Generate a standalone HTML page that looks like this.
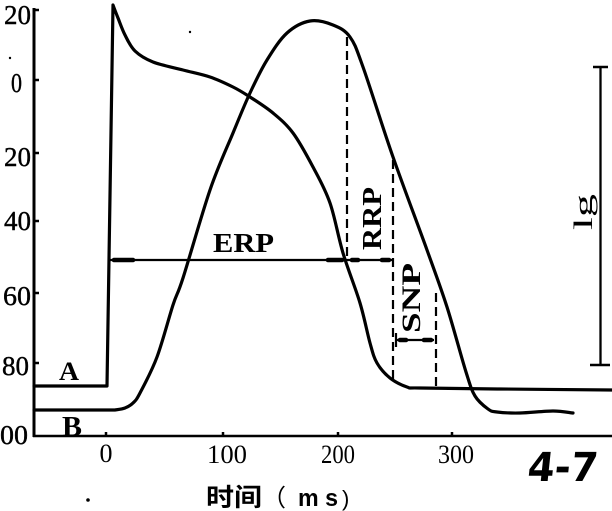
<!DOCTYPE html>
<html><head><meta charset="utf-8"><style>
html,body{margin:0;padding:0;background:#fff;}
svg{display:block;}
.t{font-family:"Liberation Serif",serif;fill:#000;}
</style></head><body>
<svg width="612" height="511" viewBox="0 0 612 511" xmlns="http://www.w3.org/2000/svg">
<rect width="612" height="511" fill="#fff"/>
<!-- axes -->
<line x1="34" y1="8" x2="34" y2="437" stroke="#000" stroke-width="3"/>
<line x1="33" y1="436" x2="612" y2="436" stroke="#000" stroke-width="2.5"/>
<line x1="34" y1="10" x2="39" y2="10" stroke="#000" stroke-width="2.5"/>
<g stroke="#000" stroke-width="2.5">
<line x1="34" y1="80" x2="39" y2="80"/>
<line x1="34" y1="153" x2="39" y2="153"/>
<line x1="34" y1="221" x2="39" y2="221"/>
<line x1="34" y1="293" x2="39" y2="293"/>
<line x1="34" y1="363" x2="39" y2="363"/>
<line x1="106" y1="436" x2="106" y2="432"/>
<line x1="223" y1="436" x2="223" y2="432"/>
<line x1="338" y1="436" x2="338" y2="432"/>
<line x1="452" y1="436" x2="452" y2="432"/>
</g>
<!-- y labels -->
<g class="t" font-size="27" text-anchor="end" stroke="#000" stroke-width="0.4">
<text x="31" y="24" textLength="27" lengthAdjust="spacingAndGlyphs">20</text>
<text x="22" y="92" textLength="11" lengthAdjust="spacingAndGlyphs">0</text>
<text x="31" y="166" textLength="27" lengthAdjust="spacingAndGlyphs">20</text>
<text x="31" y="230" textLength="27" lengthAdjust="spacingAndGlyphs">40</text>
<text x="31" y="305" textLength="28" lengthAdjust="spacingAndGlyphs">60</text>
<text x="29" y="375" textLength="27" lengthAdjust="spacingAndGlyphs">80</text>
<text x="28" y="444" textLength="28" lengthAdjust="spacingAndGlyphs">00</text>
</g>
<!-- x labels -->
<g class="t" font-size="26" text-anchor="middle">
<text x="106" y="462">0</text>
<text x="227" y="463" textLength="40" lengthAdjust="spacingAndGlyphs">100</text>
<text x="338" y="463" textLength="34" lengthAdjust="spacingAndGlyphs">200</text>
<text x="456" y="463" textLength="36" lengthAdjust="spacingAndGlyphs">300</text>
</g>
<!-- curve A -->
<path id="curveA" fill="none" stroke="#000" stroke-width="3.2" stroke-linejoin="round" stroke-linecap="round"
d="M34,386 L107,386 L113,5 L118,18 L123,33 L133,50 L153,62 L183,70 L210,77 L233,87 L250,97 L273,113 L293,133 L313,167 L330,200 L343,253 L360,303 L370,343 L377,363 L390,378 L407,387 L420,388 L500,389 L612,390"/>
<!-- curve B -->
<path id="curveB" fill="none" stroke="#000" stroke-width="3.2" stroke-linejoin="round" stroke-linecap="round"
d="M34,410 L115,410 L125,408 L133,403 L140,393 L157,357 L173,305 L183,278 L210,190 L233,133 L250,93 L267,60 L287,33 L310,21 L333,25 L350,37 L363,67 L393,157 L427,250 L447,307 L466,372 L475,396 L488,409 L497,412 L520,413 L553,411 L573,413"/>
<!-- dashed lines -->
<g stroke="#000" stroke-width="2.2" stroke-dasharray="9,5">
<line x1="347" y1="37" x2="347" y2="260"/>
<line x1="393" y1="160" x2="393" y2="380"/>
<line x1="436" y1="293" x2="436" y2="389"/>
</g>
<!-- ERP / RRP arrow line -->
<line x1="109" y1="260" x2="393" y2="260" stroke="#000" stroke-width="2.2"/>
<g stroke="#000" stroke-width="4.5" stroke-linecap="round">
<line x1="114" y1="260" x2="133" y2="260"/>
<line x1="328" y1="260" x2="342" y2="260"/>
<line x1="352" y1="260" x2="358" y2="260"/>
<line x1="382" y1="260" x2="389" y2="260"/>
</g>
<!-- SNP arrow -->
<line x1="396" y1="333" x2="396" y2="347" stroke="#000" stroke-width="2.2"/>
<line x1="396" y1="340" x2="434" y2="340" stroke="#000" stroke-width="2.2"/>
<g stroke="#000" stroke-width="4.5" stroke-linecap="round">
<line x1="400" y1="340" x2="406" y2="340"/>
<line x1="424" y1="340" x2="431" y2="340"/>
</g>
<!-- scale bar -->
<line x1="600.5" y1="67" x2="600.5" y2="365" stroke="#000" stroke-width="2.3"/>
<line x1="593" y1="67" x2="608" y2="67" stroke="#000" stroke-width="2.5"/>
<line x1="590" y1="365" x2="610" y2="365" stroke="#000" stroke-width="2.5"/>
<!-- labels -->
<text class="t" x="213" y="252" font-size="27" font-weight="bold" textLength="61" lengthAdjust="spacingAndGlyphs">ERP</text>
<text class="t" font-size="27" font-weight="bold" transform="translate(381,250) rotate(-90)" textLength="63" lengthAdjust="spacingAndGlyphs">RRP</text>
<text class="t" font-size="26" font-weight="bold" transform="translate(420,333) rotate(-90)" textLength="70" lengthAdjust="spacingAndGlyphs">SNP</text>
<text class="t" font-size="26" transform="translate(592,230) rotate(-90)" textLength="36" lengthAdjust="spacingAndGlyphs">lg</text>
<text class="t" x="59" y="380" font-size="26" font-weight="bold" textLength="20" lengthAdjust="spacingAndGlyphs">A</text>
<text class="t" x="62" y="436" font-size="28" font-weight="bold" textLength="20" lengthAdjust="spacingAndGlyphs">B</text>
<!-- axis title -->
<text x="206" y="506" font-family="'Liberation Sans','Noto Sans CJK SC',sans-serif" font-size="25" font-weight="bold" fill="#000" textLength="56" lengthAdjust="spacingAndGlyphs">时间</text>
<text x="262" y="506" font-family="'Liberation Sans','Noto Sans CJK SC',sans-serif" font-size="24" fill="#000">（</text>
<text x="298" y="506" font-family="'Liberation Sans',sans-serif" font-size="24" font-weight="bold" fill="#000" textLength="40" lengthAdjust="spacingAndGlyphs">m s</text>
<text x="342" y="506" font-family="'Liberation Sans',sans-serif" font-size="22" fill="#000">)</text>
<!-- figure number -->
<text x="527" y="481" font-family="'DejaVu Sans',sans-serif" font-size="40" font-weight="bold" fill="#000" textLength="70" lengthAdjust="spacingAndGlyphs" transform="skewX(-6) translate(50,0)">4-7</text>
<!-- specks -->
<circle cx="88" cy="500" r="1.8" fill="#000"/>
<circle cx="10" cy="58" r="1.2" fill="#000"/>
<circle cx="190" cy="32" r="1.2" fill="#000"/>
</svg>
<script>
(function(){
function smooth(pre, pts){
  var d = pre;
  for (var i=0;i<pts.length-1;i++){
    var p0 = pts[i-1]||pts[i], p1=pts[i], p2=pts[i+1], p3=pts[i+2]||pts[i+1];
    var c1x=p1[0]+(p2[0]-p0[0])/6, c1y=p1[1]+(p2[1]-p0[1])/6;
    var c2x=p2[0]-(p3[0]-p1[0])/6, c2y=p2[1]-(p3[1]-p1[1])/6;
    d += " C"+c1x.toFixed(1)+","+c1y.toFixed(1)+" "+c2x.toFixed(1)+","+c2y.toFixed(1)+" "+p2[0]+","+p2[1];
  }
  return d;
}
var A=[[113,5],[118,18],[125,35],[135,51],[153,62],[183,70],[210,77],[233,87],[250,97],[273,113],[293,133],[313,167],[330,203],[343,253],[360,303],[370,343],[377,363],[390,378],[407,387],[420,388],[500,389],[612,390]];
var B=[[115,410],[125,408],[133,403],[140,393],[157,357],[173,305],[183,278],[210,190],[233,133],[250,93],[267,60],[287,33],[310,21],[333,25],[350,37],[363,67],[393,157],[427,250],[447,307],[466,372],[475,396],[488,409],[497,412],[520,413],[553,411],[573,413]];
document.getElementById('curveA').setAttribute('d', smooth("M34,386 L107,386 L113,5", A));
document.getElementById('curveB').setAttribute('d', smooth("M34,410 L115,410", B));
})();
</script>
</body></html>
